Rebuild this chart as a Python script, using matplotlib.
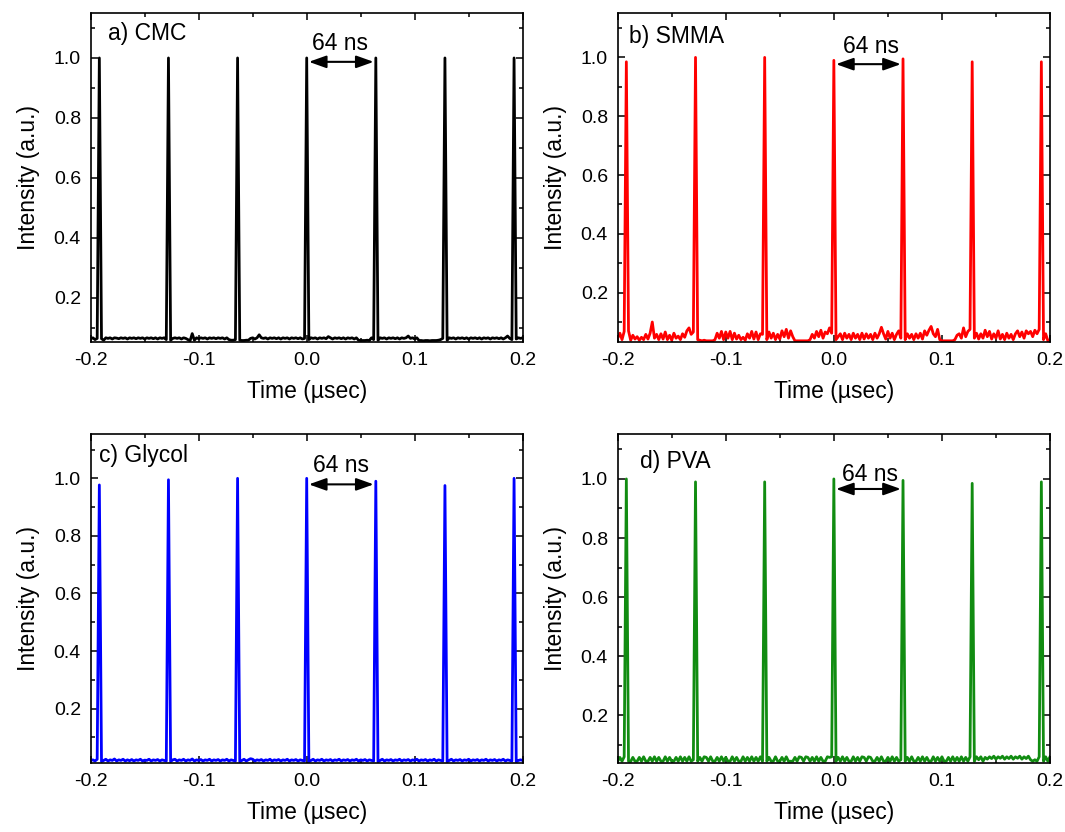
import numpy as np
import matplotlib
matplotlib.use("Agg")
import matplotlib.pyplot as plt
from matplotlib.ticker import MultipleLocator

plt.rcParams['font.family'] = ['Liberation Sans', 'DejaVu Sans']
plt.rcParams['axes.unicode_minus'] = False

# Time axis (microseconds), 2 ns sampling
time_us = np.linspace(-0.2, 0.2, 201)

# a) CMC intensity
cmc = [
    .062, .066, .060, .064, 1.000, .063, .058, .066, .064, .066, .062, .066, .065, .063, .066, .064, .066, .062, .066, .064,
    .066, .063, .066, .064, .066, .062, .066, .064, .066, .063, .066, .062, .066, .064, .066, .060, 1.000, .058, .064, .066,
    .064, .066, .062, .066, .064, .060, .056, .080, .058, .066, .063, .066, .064, .066, .062, .066, .064, .066, .063, .066,
    .064, .066, .062, .066, .060, .058, .058, .060, 1.000, .058, .057, .057, .058, .058, .064, .066, .062, .066, .076, .066,
    .064, .066, .062, .066, .064, .066, .063, .066, .062, .066, .064, .066, .062, .066, .064, .066, .063, .066, .062, .064,
    1.000, .060, .066, .064, .066, .062, .066, .064, .066, .063, .070, .066, .062, .066, .064, .066, .063, .066, .062, .066,
    .064, .066, .062, .066, .058, .057, .057, .057, .058, .057, .066, .060, 1.000, .058, .066, .064, .066, .062, .066, .064,
    .066, .063, .066, .062, .066, .064, .066, .072, .064, .066, .062, .066, .057, .057, .056, .057, .057, .056, .057, .057,
    .057, .058, .060, .064, 1.000, .058, .066, .064, .066, .062, .066, .064, .066, .063, .066, .062, .066, .064, .066, .063,
    .066, .062, .066, .064, .066, .062, .066, .064, .066, .063, .066, .062, .066, .072, .064, .060, 1.000, .062, .066, .064, .066,
]

# b) SMMA intensity
smma = [
    .045, .062, .040, .068, .985, .070, .038, .055, .042, .050, .038, .048, .040, .058, .042, .062, .100, .045, .058, .040,
    .060, .042, .066, .040, .055, .038, .062, .045, .052, .040, .060, .048, .070, .080, .058, .066, 1.000, .040, .038, .036,
    .038, .036, .036, .036, .036, .040, .062, .045, .068, .040, .066, .045, .068, .040, .062, .042, .055, .040, .048, .038,
    .060, .045, .068, .042, .066, .040, .060, .058, 1.000, .040, .066, .045, .062, .040, .058, .042, .070, .050, .075, .045,
    .070, .050, .036, .036, .036, .036, .036, .036, .036, .040, .058, .045, .068, .050, .072, .045, .066, .060, .080, .062,
    .990, .040, .050, .060, .040, .062, .045, .058, .040, .062, .045, .058, .040, .062, .042, .060, .045, .058, .040, .062,
    .045, .060, .082, .060, .042, .068, .045, .062, .040, .058, .070, .045, .995, .040, .060, .045, .058, .040, .060, .045,
    .062, .042, .070, .055, .072, .085, .060, .050, .075, .040, .036, .036, .036, .036, .036, .036, .040, .055, .060, .045,
    .080, .050, .068, .075, .985, .045, .062, .042, .060, .045, .072, .050, .068, .042, .060, .045, .070, .042, .058, .040,
    .062, .045, .058, .040, .060, .070, .050, .066, .045, .070, .060, .068, .050, .072, .060, .075, .985, .040, .060, .036, .040,
]

# c) Glycol intensity
glycol = [
    .020, .022, .018, .024, .977, .016, .020, .024, .018, .022, .020, .025, .018, .022, .020, .024, .018, .022, .019, .023,
    .018, .022, .020, .024, .018, .021, .020, .024, .018, .022, .020, .023, .018, .022, .020, .018, .995, .016, .022, .024,
    .018, .022, .020, .024, .018, .022, .020, .025, .018, .022, .020, .023, .018, .022, .020, .024, .018, .022, .020, .023,
    .018, .022, .020, .024, .018, .022, .020, .018, 1.000, .016, .020, .024, .018, .022, .026, .024, .018, .022, .020, .023,
    .018, .022, .020, .024, .018, .022, .020, .023, .018, .022, .020, .024, .018, .022, .020, .023, .018, .022, .020, .018,
    1.000, .016, .020, .024, .018, .022, .020, .024, .018, .022, .020, .023, .018, .022, .020, .024, .018, .022, .020, .023,
    .018, .022, .020, .024, .018, .022, .020, .023, .018, .022, .020, .018, .990, .016, .020, .024, .018, .022, .020, .023,
    .018, .022, .020, .024, .018, .022, .020, .023, .018, .022, .020, .024, .018, .022, .020, .023, .018, .022, .020, .024,
    .018, .022, .020, .018, .975, .016, .020, .024, .018, .022, .020, .023, .018, .022, .020, .024, .018, .022, .020, .023,
    .018, .022, .020, .024, .018, .022, .020, .023, .018, .022, .020, .024, .018, .022, .020, .018, 1.000, .016, .020, .022, .020,
]

# d) PVA intensity
pva = [
    .045, .058, .045, .060, 1.000, .045, .044, .058, .045, .045, .058, .045, .060, .045, .045, .058, .045, .060, .045, .058,
    .045, .045, .060, .045, .058, .045, .045, .058, .045, .060, .045, .058, .045, .060, .045, .050, .990, .045, .058, .045,
    .060, .058, .045, .060, .045, .045, .058, .045, .060, .045, .058, .045, .045, .060, .045, .058, .045, .045, .060, .045,
    .058, .045, .060, .045, .058, .045, .060, .045, .990, .045, .058, .045, .045, .060, .045, .045, .058, .045, .060, .045,
    .045, .045, .058, .045, .060, .058, .045, .060, .058, .045, .058, .045, .060, .045, .058, .045, .045, .060, .058, .060,
    1.000, .045, .058, .045, .060, .045, .058, .045, .045, .060, .045, .058, .045, .060, .058, .045, .060, .058, .045, .045,
    .058, .045, .060, .045, .045, .058, .045, .060, .045, .058, .045, .050, .995, .045, .058, .045, .060, .045, .045, .058,
    .045, .060, .045, .058, .045, .045, .060, .045, .058, .045, .060, .045, .045, .058, .045, .060, .045, .058, .045, .060,
    .045, .058, .045, .060, .985, .045, .060, .050, .060, .045, .058, .052, .060, .054, .062, .052, .060, .055, .062, .052,
    .060, .054, .062, .052, .060, .055, .062, .052, .060, .054, .062, .050, .045, .050, .045, .060, .990, .045, .060, .045, .060,
]

panel_labels = ["a) CMC", "b) SMMA", "c) Glycol", "d) PVA"]
series = [cmc, smma, glycol, pva]
colors = ["black", "#ff0000", "#0000ff", "#118c11"]
x_ticks = [-0.2, -0.1, 0.0, 0.1, 0.2]
y_ticks = [0.2, 0.4, 0.6, 0.8, 1.0]
period_text = "64 ns"
period_start, period_end = 0.0, 0.064

ylims = [(0.052, 1.150), (0.032, 1.151), (0.010, 1.154), (0.038, 1.152)]
arrow_y = [0.987, 0.977, 0.979, 0.966]
text_xy = [(0.031, 1.048), (0.0347, 1.036), (0.032, 1.044), (0.0332, 1.016)]
label_xy = [(0.041, 0.938), (0.027, 0.928), (0.020, 0.936), (0.052, 0.916)]

W, H = 1065, 832
fig = plt.figure(figsize=(W / 100, H / 100), dpi=100)
boxes = [
    (90.7, 13, 522.7, 342),
    (617.7, 13, 1050, 342),
    (90.7, 434, 522.7, 763.3),
    (617.7, 434, 1050, 763.3),
]

for i, (x0, y0, x1, y1) in enumerate(boxes):
    ax = fig.add_axes([x0 / W, 1 - y1 / H, (x1 - x0) / W, (y1 - y0) / H])
    ax.plot(time_us, series[i], color=colors[i], lw=2.0)
    ax.set_xlim(-0.2, 0.2)
    ax.set_ylim(*ylims[i])
    ax.set_xticks(x_ticks)
    ax.set_xticklabels([f"{v:.1f}" for v in x_ticks])
    ax.set_yticks(y_ticks)
    ax.set_yticklabels([f"{v:.1f}" for v in y_ticks])
    ax.xaxis.set_minor_locator(MultipleLocator(0.05))
    ax.yaxis.set_minor_locator(MultipleLocator(0.1))
    ax.tick_params(which='both', direction='in', top=True, right=True, width=1.1)
    ax.tick_params(which='major', length=5, labelsize=14, pad=7)
    ax.tick_params(which='minor', length=3)
    for s in ax.spines.values():
        s.set_linewidth(1.2)
    ax.set_xlabel("Time (\u00b5sec)", fontsize=16.5, labelpad=8)
    ax.set_ylabel("Intensity (a.u.)", fontsize=16.5, labelpad=10)
    ax.text(label_xy[i][0], label_xy[i][1], panel_labels[i], transform=ax.transAxes,
            fontsize=16.5, ha='left', va='center')
    ax.annotate("", xy=(period_start + 0.002, arrow_y[i]), xytext=(period_end - 0.002, arrow_y[i]),
                arrowprops=dict(arrowstyle='<|-|>,head_length=0.7,head_width=0.25',
                                color='black', lw=1.5, shrinkA=0, shrinkB=0, mutation_scale=15))
    ax.text(text_xy[i][0], text_xy[i][1], period_text, fontsize=16.5, ha='center', va='center')

fig.savefig("out.png", dpi=100)
